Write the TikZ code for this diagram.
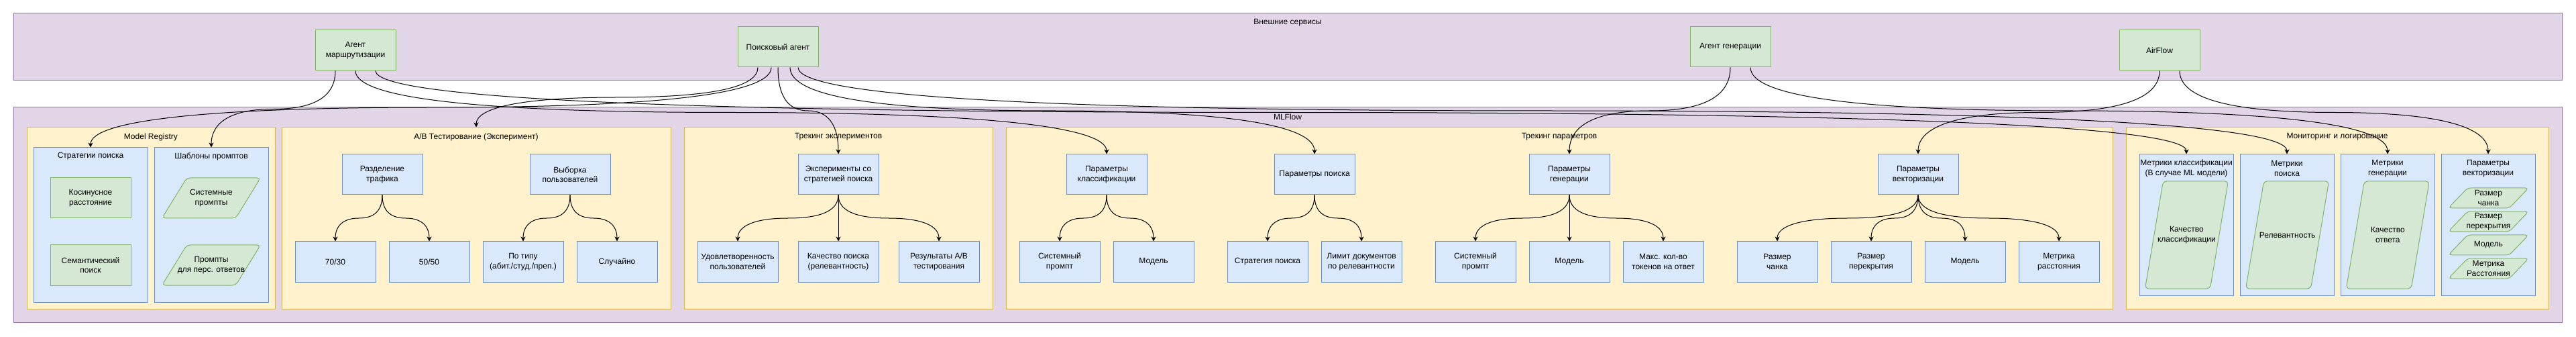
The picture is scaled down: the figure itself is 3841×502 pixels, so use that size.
\documentclass[tikz,border=0pt]{standalone}
\usepackage{fontspec}
\setmainfont{Liberation Sans}
\usetikzlibrary{arrows.meta,calc}
\definecolor{pfill}{HTML}{E1D5E7}\definecolor{pdraw}{HTML}{9673A6}
\definecolor{yfill}{HTML}{FFF2CC}\definecolor{ydraw}{HTML}{D6B656}
\definecolor{bfill}{HTML}{DAE8FC}\definecolor{bdraw}{HTML}{6C8EBF}
\definecolor{gfill}{HTML}{D5E8D4}\definecolor{gdraw}{HTML}{82B366}
\newcommand\dcurve[2]{%
  \draw[edge] let \p1=(#1), \p2=(#2) in (\p1)
    .. controls (\x1,{(\y1)+((\y2)-(\y1))/3}) and ({(\x1)+((\x2)-(\x1))/6},{(\y1)+((\y2)-(\y1))/2})
    .. ({(\x1)+((\x2)-(\x1))/2},{(\y1)+((\y2)-(\y1))/2})
    .. controls ({(\x2)-((\x2)-(\x1))/6},{(\y1)+((\y2)-(\y1))/2}) and (\x2,{(\y2)-((\y2)-(\y1))/3})
    .. (\p2);}
\newcommand\paranode[7]{% name, cx, cy, w, h, slant, text
  \filldraw[fill=gfill,draw=gdraw,line width=1pt,rounded corners=5pt]
    ({#2-#4/2},{#3+#5/2}) -- ({#2-#4/2+#6},{#3-#5/2}) -- ({#2+#4/2},{#3-#5/2}) -- ({#2+#4/2-#6},{#3+#5/2}) -- cycle;
  \node[txt] (#1) at (#2,#3) {#7};}
\begin{document}
\begin{tikzpicture}[x=1pt,y=-1pt,
  txt/.style={inner sep=0pt,align=center,font=\fontsize{12}{14.5}\selectfont},
  pcont/.style={draw=pdraw,fill=pfill,line width=1pt,inner sep=0pt},
  ycont/.style={draw=ydraw,fill=yfill,line width=1pt,inner sep=0pt,minimum height=270pt},
  bcont/.style={draw=bdraw,fill=bfill,line width=1pt,inner sep=0pt},
  gbox/.style={txt,draw=gdraw,fill=gfill,line width=1pt,minimum width=120pt,minimum height=60pt},
  bbox/.style={txt,draw=bdraw,fill=bfill,line width=1pt,minimum width=120pt,minimum height=60pt},
  edge/.style={draw=black,line width=1pt,-{Stealth[length=7pt,width=7pt,inset=2pt]}}]
\fill[white] (0,0) rectangle (3841,502);
\useasboundingbox (0,0) rectangle (3841,502);

% outer containers
\node[pcont,minimum width=3800pt,minimum height=100pt] (ext) at (1920,70) {};
\node[txt] (extT) at (1920,34) {Внешние сервисы};
\node[pcont,minimum width=3800pt,minimum height=320pt] (mlf) at (1920,320) {};
\node[txt] (mlfT) at (1920,174) {MLFlow};

% agents
\node[gbox] (agR) at (530,75) {Агент\\маршрутизации};
\node[gbox] (agS) at (1160,70) {Поисковый агент};
\node[gbox] (agG) at (2580,70) {Агент генерации};
\node[gbox] (air) at (3220,75) {AirFlow};

% yellow sections
\node[ycont,minimum width=370pt] (reg) at (225,325) {};
\node[txt] (regT) at (225,204) {Model Registry};
\node[ycont,minimum width=580pt] (ab) at (710,325) {};
\node[txt] (abT) at (710,204) {A/B Тестирование (Эксперимент)};
\node[ycont,minimum width=460pt] (tre) at (1250,325) {};
\node[txt] (treT) at (1250,204) {Трекинг экспериментов};
\node[ycont,minimum width=1650pt] (trp) at (2325,325) {};
\node[txt] (trpT) at (2325,204) {Трекинг параметров};
\node[ycont,minimum width=630pt] (mon) at (3485,325) {};
\node[txt] (monT) at (3485,204) {Мониторинг и логирование};

% Model Registry
\node[bcont,minimum width=170pt,minimum height=230pt] (strat) at (135,335) {};
\node[txt] (stratT) at (135,233) {Стратегии поиска};
\node[bcont,minimum width=170pt,minimum height=230pt] (tmpl) at (315,335) {};
\node[txt] (tmplT) at (315,233) {Шаблоны промптов};
\node[gbox] (cos) at (135,295) {Косинусное\\расстояние};
\node[gbox] (sem) at (135,395) {Семантический\\поиск};
\paranode{sysp}{315}{295}{147}{60}{37}{Системные\\промпты}
\paranode{persp}{315}{395}{147}{60}{37}{Промпты\\для перс. ответов}

% A/B
\node[bbox] (split) at (570,260) {Разделение\\трафика};
\node[bbox] (sample) at (850,260) {Выборка\\пользователей};
\node[bbox] (s7030) at (500,390) {70/30};
\node[bbox] (s5050) at (640,390) {50/50};
\node[bbox] (bytype) at (780,390) {По типу\\(абит./студ./преп.)};
\node[bbox] (rnd) at (920,390) {Случайно};

% experiments tracking
\node[bbox] (exps) at (1250,260) {Эксперименты со\\стратегией поиска};
\node[bbox] (sat) at (1100,390) {Удовлетворенность\\пользователей};
\node[bbox] (squal) at (1250,390) {Качество поиска\\(релевантность)};
\node[bbox] (abres) at (1400,390) {Результаты A/B\\тестирования};

% parameter tracking
\node[bbox] (pcls) at (1650,260) {Параметры\\классификации};
\node[bbox] (psrch) at (1960,260) {Параметры поиска};
\node[bbox] (pgen) at (2340,260) {Параметры\\генерации};
\node[bbox] (pvec) at (2860,260) {Параметры\\векторизации};
\node[bbox] (cSys) at (1580,390) {Системный\\промпт};
\node[bbox] (cMod) at (1720,390) {Модель};
\node[bbox] (sStr) at (1890,390) {Стратегия поиска};
\node[bbox] (sLim) at (2030,390) {Лимит документов\\по релевантности};
\node[bbox] (gSys) at (2200,390) {Системный\\промпт};
\node[bbox] (gMod) at (2340,390) {Модель};
\node[bbox] (gMax) at (2480,390) {Макс. кол-во\\токенов на ответ};
\node[bbox] (vChunk) at (2650,390) {Размер\\чанка};
\node[bbox] (vOv) at (2790,390) {Размер\\перекрытия};
\node[bbox] (vMod) at (2930,390) {Модель};
\node[bbox] (vMet) at (3070,390) {Метрика\\расстояния};

% monitoring
\node[bcont,minimum width=140pt,minimum height=210pt] (mcls) at (3260,335) {};
\node[txt] (mclsT) at (3260,251) {Метрики классификации\\(В случае ML модели)};
\node[bcont,minimum width=140pt,minimum height=210pt] (msrch) at (3410,335) {};
\node[txt] (msrchT) at (3410,251) {Метрики\\поиска};
\node[bcont,minimum width=140pt,minimum height=210pt] (mgen) at (3560,335) {};
\node[txt] (mgenT) at (3560,251) {Метрики\\генерации};
\node[bcont,minimum width=140pt,minimum height=210pt] (mvec) at (3710,335) {};
\node[txt] (mvecT) at (3710,251) {Параметры\\векторизации};
\paranode{qcls}{3260.4}{350}{124}{160}{27}{Качество\\классификации}
\paranode{qrel}{3410.5}{350}{124}{160}{27}{Релевантность}
\paranode{qans}{3560.3}{350}{124}{160}{27}{Качество\\ответа}
\paranode{mChunk}{3710.4}{295}{120}{30}{29}{Размер\\чанка}
\paranode{mOv}{3710.4}{330}{120}{30}{29}{Размер\\перекрытия}
\paranode{mMod}{3710.4}{365}{120}{30}{29}{Модель}
\paranode{mMet}{3710.4}{400}{120}{30}{29}{Метрика\\Расстояния}

% inner edges
\dcurve{split.south}{s7030.north}
\dcurve{split.south}{s5050.north}
\dcurve{sample.south}{bytype.north}
\dcurve{sample.south}{rnd.north}
\dcurve{exps.south}{sat.north}
\dcurve{exps.south}{squal.north}
\dcurve{exps.south}{abres.north}
\dcurve{pcls.south}{cSys.north}
\dcurve{pcls.south}{cMod.north}
\dcurve{psrch.south}{sStr.north}
\dcurve{psrch.south}{sLim.north}
\dcurve{pgen.south}{gSys.north}
\dcurve{pgen.south}{gMod.north}
\dcurve{pgen.south}{gMax.north}
\dcurve{pvec.south}{vChunk.north}
\dcurve{pvec.south}{vOv.north}
\dcurve{pvec.south}{vMod.north}
\dcurve{pvec.south}{vMet.north}

% agent edges
\dcurve{[xshift=-30pt]agR.south}{tmpl.north}
\dcurve{agR.south}{pcls.north}
\dcurve{[xshift=30pt]agR.south}{mcls.north}
\dcurve{[xshift=-30pt]agS.south}{ab.north}
\dcurve{[xshift=-10pt]agS.south}{strat.north}
\dcurve{agS.south}{exps.north}
\dcurve{[xshift=18pt]agS.south}{psrch.north}
\dcurve{[xshift=30pt]agS.south}{msrch.north}
\dcurve{agG.south}{pgen.north}
\dcurve{[xshift=30pt]agG.south}{mgen.north}
\dcurve{air.south}{pvec.north}
\dcurve{[xshift=30pt]air.south}{mvec.north}
\end{tikzpicture}
\end{document}
